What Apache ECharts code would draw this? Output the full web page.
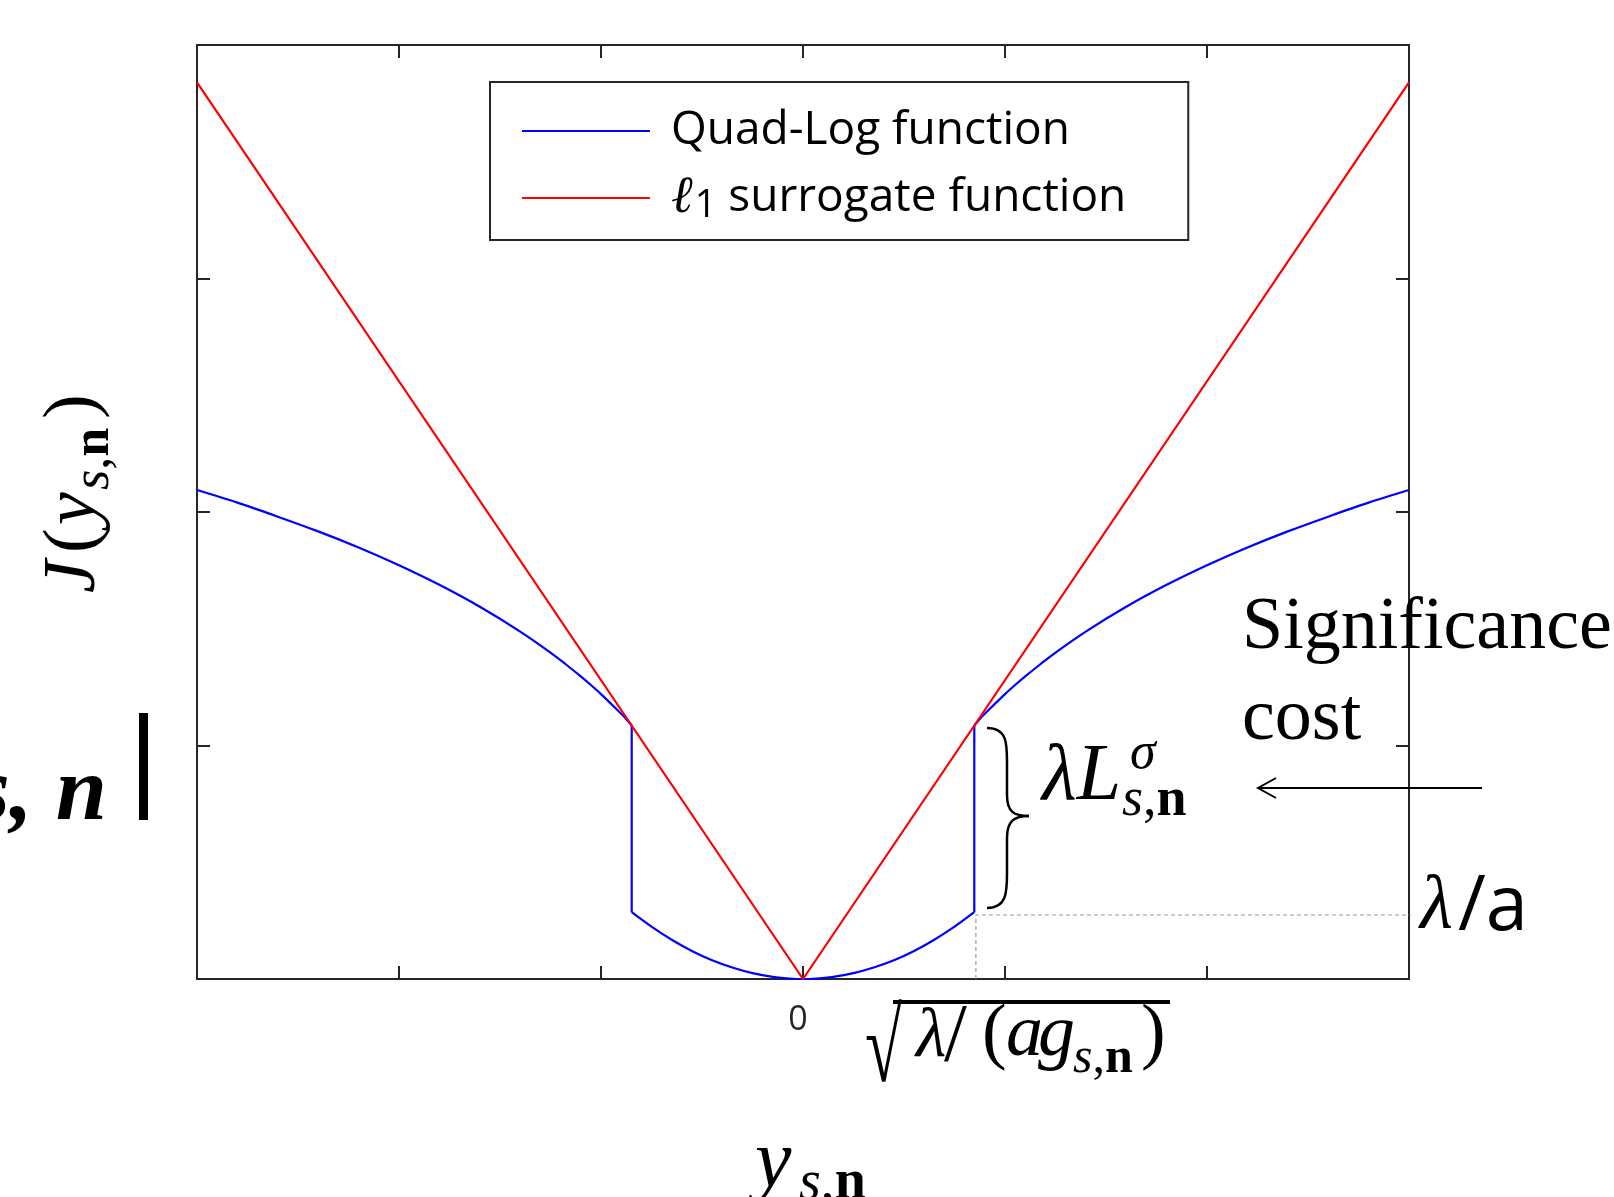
<!DOCTYPE html>
<html>
<head>
<meta charset="utf-8">
<script src="https://cdn.jsdelivr.net/npm/echarts@6/dist/echarts.min.js"></script>
<style>html,body{margin:0;padding:0;background:#fff;}#c{width:1614px;height:1197px;}</style>
</head>
<body>
<div id="c"></div>
<script>
// ---- data ----
const xTicks = [-3, -2, -1, 0, 1, 2, 3];
const yTicks = [0, 1, 2, 3, 4];
// Quad-Log function, three pieces (left log branch, central quadratic, right log branch)
const leftLogX = [-3.0,-2.8,-2.6,-2.4,-2.2,-2.0,-1.8,-1.6,-1.4,-1.25,-1.175,-1.1,-1.05,-1.0,-0.92,-0.88,-0.848];
const leftLogY = [2.094,2.04,1.98,1.917,1.848,1.772,1.688,1.594,1.488,1.398,1.348,1.296,1.259,1.22,1.153,1.118,1.086];
const quadX = [-0.848,-0.75,-0.65,-0.55,-0.45,-0.35,-0.25,-0.15,-0.05,0,0.05,0.15,0.25,0.35,0.45,0.55,0.65,0.75,0.848];
const quadY = [0.286,0.224,0.168,0.120,0.080,0.049,0.025,0.009,0.001,0,0.001,0.009,0.025,0.049,0.080,0.120,0.168,0.224,0.286];
const rightLogX = [0.848,0.88,0.92,1.0,1.05,1.1,1.175,1.25,1.4,1.6,1.8,2.0,2.2,2.4,2.6,2.8,3.0];
const rightLogY = [1.086,1.118,1.153,1.22,1.259,1.296,1.348,1.398,1.488,1.594,1.688,1.772,1.848,1.917,1.98,2.04,2.094];
// l1 surrogate function
const l1X = [-3, 0, 3];
const l1Y = [3.84, 0, 3.84];
// dashed guide to lambda/a
const guideX = [0.856, 0.856, 3.045];
const guideY = [0, 0.274, 0.274];
const seriesNames = ['Quad-Log function', 'ℓ1 surrogate function'];

const pairs = (xs, ys) => xs.map((x, i) => [x, ys[i]]);
const last = a => a[a.length - 1];

const chart = echarts.init(document.getElementById('c'), null, {renderer: 'canvas'});
const AX = '#262626';
const SERIF = '"Liberation Serif", "Times New Roman", serif';
const SANS = '"Open Sans", "Noto Sans", sans-serif';

function T(x, base, text, F, o) {
  o = o || {};
  return {
    type: 'text', x: x, y: base - 0.34 * F, z: 10,
    style: Object.assign({
      text: text, fontSize: F, fontFamily: o.family || SERIF,
      fontStyle: o.italic ? 'italic' : 'normal', fontWeight: o.bold ? 'bold' : 'normal',
      fill: '#000', verticalAlign: 'middle', align: o.align || 'left'
    }, o.rich ? {rich: o.rich} : {})
  };
}
function subRich(F) {
  return {
    i: {fontSize: F, fontFamily: SERIF, fontStyle: 'italic', fill: '#000'},
    r: {fontSize: F, fontFamily: SERIF, fill: '#000'},
    b: {fontSize: F, fontFamily: SERIF, fontWeight: 'bold', fill: '#000'}
  };
}

const axisCommon = {
  axisLine: {show: true, onZero: false, lineStyle: {color: AX, width: 2}},
  axisTick: {show: true, inside: true, length: 13, lineStyle: {color: AX, width: 2}},
  splitLine: {show: false}
};

const blueLine = {type: 'line', symbol: 'none', showSymbol: false, smooth: 0.3,
  lineStyle: {color: '#0000ff', width: 2.2}, itemStyle: {color: '#0000ff'}, z: 3};

const option = {
  backgroundColor: '#fff',
  animation: false,
  grid: {left: 197, right: 205, top: 45, bottom: 218},
  legend: {
    data: seriesNames,
    orient: 'vertical', left: 490, top: 82,
    borderColor: AX, borderWidth: 2, borderRadius: 0,
    padding: [26, 62, 15, 32],
    icon: 'rect',
    itemWidth: 128, itemHeight: 2.2, itemGap: 18,
    formatter: function (name) {
      if (name.charAt(0) === 'ℓ') return '{ell|ℓ}{sub|1}{n| surrogate function}';
      return '{n|' + name + '}';
    },
    textStyle: {
      padding: [0, 0, 0, 16],
      rich: {
        n: {fontFamily: SANS, fontSize: 46, color: '#000', lineHeight: 54, verticalAlign: 'middle'},
        ell: {fontFamily: SERIF, fontStyle: 'italic', fontSize: 52, color: '#000', lineHeight: 54, verticalAlign: 'middle'},
        sub: {fontFamily: SANS, fontSize: 38, color: '#000', lineHeight: 38, verticalAlign: 'bottom', padding: [0, 0, 0, 2]}
      }
    }
  },
  xAxis: [
    Object.assign({type: 'value', position: 'bottom', min: xTicks[0], max: last(xTicks), interval: 1,
      axisLabel: {show: true, margin: 24, color: AX, fontSize: 34, fontFamily: SANS, padding: [0, 10, 0, 0],
        formatter: v => (v === 0 ? '0' : '')}}, axisCommon),
    Object.assign({type: 'value', position: 'top', min: xTicks[0], max: last(xTicks), interval: 1,
      axisLabel: {show: false}}, axisCommon)
  ],
  yAxis: [
    Object.assign({type: 'value', position: 'left', min: yTicks[0], max: last(yTicks), interval: 1,
      axisLabel: {show: false}}, axisCommon),
    Object.assign({type: 'value', position: 'right', min: yTicks[0], max: last(yTicks), interval: 1,
      axisLabel: {show: false}}, axisCommon)
  ],
  series: [
    Object.assign({name: seriesNames[0], data: pairs(leftLogX, leftLogY)}, blueLine),
    Object.assign({name: seriesNames[0], data: [[last(leftLogX), last(leftLogY)], [quadX[0], quadY[0]]]}, blueLine, {smooth: false}),
    Object.assign({name: seriesNames[0], data: pairs(quadX, quadY)}, blueLine),
    Object.assign({name: seriesNames[0], data: [[last(quadX), last(quadY)], [rightLogX[0], rightLogY[0]]]}, blueLine, {smooth: false}),
    Object.assign({name: seriesNames[0], data: pairs(rightLogX, rightLogY)}, blueLine),
    {name: seriesNames[1], type: 'line', data: pairs(l1X, l1Y), symbol: 'none', showSymbol: false,
      lineStyle: {color: '#ff0000', width: 2.2}, itemStyle: {color: '#ff0000'}, z: 4},
    {name: 'guide', type: 'line', data: pairs(guideX, guideY), symbol: 'none', showSymbol: false, clip: false,
      lineStyle: {color: '#9a9a9a', width: 1.2, type: [4, 3]}, z: 2, silent: true}
  ],
  graphic: [
    // y axis label J(y_s,n), rotated
    {type: 'group', x: 100, y: 593, rotation: Math.PI / 2, children: [
      T(0, 0, 'J', 74, {italic: true}),
      T(40, 0, '(', 74),
      T(68, 0, 'y', 74, {italic: true}),
      T(103, 12, '{i|s}{r|,}{b|n}', 52, {rich: subRich(52)}),
      T(174, 0, ')', 74)
    ]},
    // cut-off text at left
    T(107, 827, 's, n', 92, {italic: true, bold: true, align: 'right'}),
    {type: 'rect', shape: {x: 139, y: 713, width: 9, height: 107}, style: {fill: '#000'}, z: 10},
    // x axis title y_s,n
    T(755, 1192, 'y', 82, {italic: true}),
    T(799, 1203, '{i|s}{r|,}{b|n}', 56, {rich: subRich(56)}),
    // sqrt(lambda/(a g_s,n))
    {type: 'text', x: 865, y: 1054, z: 10, scaleX: 0.8, scaleY: 1.23,
      style: {text: '√', fontSize: 84, fontFamily: SERIF, fill: '#000', verticalAlign: 'middle', align: 'left'}},
    {type: 'rect', shape: {x: 893, y: 1000, width: 277, height: 4}, style: {fill: '#000'}, z: 10},
    T(916, 1061, 'λ', 70, {italic: true}),
    T(944, 1066, '/', 82),
    T(982, 1061, '(', 74),
    T(1006, 1061, 'a', 74, {italic: true}),
    T(1038, 1061, 'g', 74, {italic: true}),
    T(1073, 1076, '{i|s}{r|,}{b|n}', 50, {rich: subRich(50)}),
    T(1141, 1061, ')', 74),
    // brace
    {type: 'bezierCurve', shape: {x1: 987, y1: 728, cpx1: 1008, cpy1: 728, cpx2: 1007, cpy2: 745, x2: 1007, y2: 765}, style: {stroke: '#000', lineWidth: 2.5, fill: null}, z: 10},
    {type: 'line', shape: {x1: 1007, y1: 765, x2: 1007, y2: 795}, style: {stroke: '#000', lineWidth: 2.5}, z: 10},
    {type: 'bezierCurve', shape: {x1: 1007, y1: 795, cpx1: 1007, cpy1: 812, cpx2: 1014, cpy2: 816, x2: 1029, y2: 816}, style: {stroke: '#000', lineWidth: 2.5, fill: null}, z: 10},
    {type: 'bezierCurve', shape: {x1: 1029, y1: 816, cpx1: 1014, cpy1: 816, cpx2: 1007, cpy2: 821, x2: 1007, y2: 838}, style: {stroke: '#000', lineWidth: 2.5, fill: null}, z: 10},
    {type: 'line', shape: {x1: 1007, y1: 838, x2: 1007, y2: 870}, style: {stroke: '#000', lineWidth: 2.5}, z: 10},
    {type: 'bezierCurve', shape: {x1: 1007, y1: 870, cpx1: 1007, cpy1: 890, cpx2: 1008, cpy2: 908, x2: 987, y2: 908}, style: {stroke: '#000', lineWidth: 2.5, fill: null}, z: 10},
    // lambda L^sigma_s,n
    T(1042, 805, 'λL', 80, {italic: true}),
    T(1130, 772, 'σ', 52, {italic: true}),
    T(1122, 819, '{i|s}{r|,}{b|n}', 54, {rich: subRich(54)}),
    // Significance cost
    T(1242, 654, 'Significance', 74),
    T(1242, 745, 'cost', 74),
    // arrow
    {type: 'line', shape: {x1: 1482, y1: 788, x2: 1258, y2: 788}, style: {stroke: '#000', lineWidth: 2}, z: 10},
    {type: 'polyline', shape: {points: [[1276, 778], [1258, 788], [1276, 798]]}, style: {stroke: '#000', lineWidth: 2, fill: null}, z: 10},
    // lambda / a
    T(1420, 934, 'λ', 76, {italic: true}),
    T(1458, 934, '/a', 76, {family: SANS})
  ]
};
chart.setOption(option);
</script>
</body>
</html>
